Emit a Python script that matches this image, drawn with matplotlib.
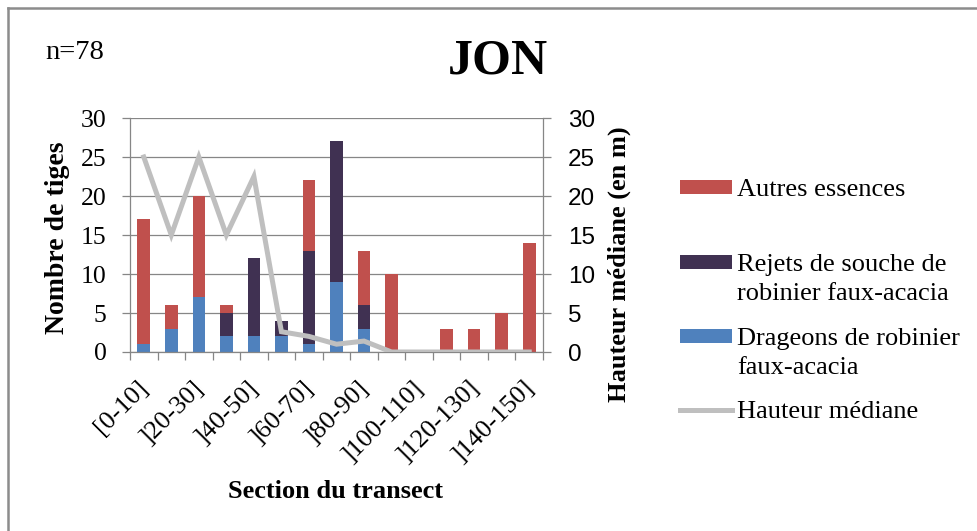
import numpy as np
import matplotlib
matplotlib.use("Agg")
import matplotlib.pyplot as plt
from matplotlib.patches import Rectangle
from matplotlib.lines import Line2D
import matplotlib.transforms as mtransforms

# sections du transect
sections = ['[0-10]', ']10-20]', ']20-30]', ']30-40]', ']40-50]', ']50-60]', ']60-70]',
            ']70-80]', ']80-90]', ']90-100]', ']100-110]', ']110-120]', ']120-130]',
            ']130-140]', ']140-150]']

# nombre de tiges par categorie
drageons = [1, 3, 7, 2, 2, 2, 1, 9, 3, 0, 0, 0, 0, 0, 0]
rejets = [0, 0, 0, 3, 10, 2, 12, 18, 3, 0, 0, 0, 0, 0, 0]
autres = [16, 3, 13, 1, 0, 0, 9, 0, 7, 10, 0, 3, 3, 5, 14]

# hauteur mediane (en m)
hauteur = [25, 15, 25, 15, 22.5, 2.6, 2.0, 1.0, 1.4, 0, 0, 0, 0, 0, 0]

yticks = [0, 5, 10, 15, 20, 25, 30]

c_autres = '#C0504D'
c_rejets = '#403152'
c_drag = '#4F81BD'
c_line = '#BFBFBF'
c_grid = '#868686'

serif = 'Liberation Serif'
sans = 'Liberation Sans'

W, H = 977, 531
DPI = 100
fig = plt.figure(figsize=(W / DPI, H / DPI), dpi=DPI)


def fx(px):
    return px / W


def fy(py):
    return 1 - py / H


# zone du graphique
left, right, top, bottom = 130, 543, 118, 352
ax = fig.add_axes([fx(left), fy(bottom), fx(right - left), (bottom - top) / H])
ax2 = ax.twinx()

x = np.arange(len(sections))
d = np.array(drageons)
r = np.array(rejets)
a = np.array(autres)
bw = 0.46
ax.bar(x, d, bw, color=c_drag, zorder=2)
ax.bar(x, r, bw, bottom=d, color=c_rejets, zorder=2)
ax.bar(x, a, bw, bottom=d + r, color=c_autres, zorder=2)

ax.set_xlim(-0.5, len(sections) - 0.5)
ax.set_ylim(0, 30)
ax.set_yticks(yticks)
ax.yaxis.grid(True, color=c_grid, linewidth=0.9)
ax.set_axisbelow(True)
ax.tick_params(axis='y', direction='out', length=5.8, width=0.9, color=c_grid,
               pad=11, labelsize=18.5)
for lab in ax.get_yticklabels():
    lab.set_fontfamily(serif)

# graduations x aux limites des categories, une etiquette sur deux
ax.set_xticks(x[::2])
ax.set_xticklabels(sections[::2], rotation=45, ha='right', va='top',
                   fontfamily=serif, fontsize=19)
ax.set_xticks(np.arange(-0.5, len(sections)), minor=True)
ax.tick_params(axis='x', which='major', length=0, pad=18)
ax.tick_params(axis='x', which='minor', direction='out', length=5.8, width=0.9,
               color=c_grid)
offset = mtransforms.ScaledTranslation(9 / DPI, 0, fig.dpi_scale_trans)
for lab in ax.get_xticklabels():
    lab.set_transform(lab.get_transform() + offset)

for s in ['top', 'right']:
    ax.spines[s].set_visible(False)
for s in ['left', 'bottom']:
    ax.spines[s].set_color(c_grid)
    ax.spines[s].set_linewidth(0.9)

# hauteur mediane sur l'axe secondaire
ax2.plot(x, hauteur, color=c_line, linewidth=3.6, solid_joinstyle='miter', zorder=3)
ax2.set_ylim(0, 30)
ax2.set_yticks(yticks)
ax2.tick_params(axis='y', direction='out', length=5.8, width=0.9, color=c_grid,
                pad=12, labelsize=17.5)
for lab in ax2.get_yticklabels():
    lab.set_fontfamily(sans)
for s in ['top', 'left', 'bottom']:
    ax2.spines[s].set_visible(False)
ax2.spines['right'].set_color(c_grid)
ax2.spines['right'].set_linewidth(0.9)

# titres des axes
fig.text(fx(57), fy(238), 'Nombre de tiges', rotation=90, ha='center', va='center',
         fontfamily=serif, fontweight='bold', fontsize=20)
fig.text(fx(619), fy(264), 'Hauteur médiane (en m)', rotation=90, ha='center',
         va='center', fontfamily=serif, fontweight='bold', fontsize=19)
fig.text(fx(336), fy(498), 'Section du transect', ha='center', va='baseline',
         fontfamily=serif, fontweight='bold', fontsize=19)

fig.text(fx(45), fy(59), 'n=78', ha='left', va='baseline', fontfamily=serif,
         fontsize=20.5)
fig.text(fx(498), fy(74), 'JON', ha='center', va='baseline', fontfamily=serif,
         fontweight='bold', fontsize=36)

# legende
legend_items = [
    ('patch', c_autres, 'Autres essences', 187),
    ('patch', c_rejets, 'Rejets de souche de\nrobinier faux-acacia', 262),
    ('patch', c_drag, 'Drageons de robinier\nfaux-acacia', 336),
    ('line', c_line, 'Hauteur médiane', 410),
]
for kind, col, label, yc in legend_items:
    if kind == 'patch':
        fig.add_artist(Rectangle((fx(680), fy(yc + 7)), fx(52), 14 / H,
                                 facecolor=col, edgecolor='none'))
    else:
        fig.add_artist(Line2D([fx(680), fx(732)], [fy(yc), fy(yc)], color=col,
                              linewidth=3.6))
    for k, line in enumerate(label.split('\n')):
        fig.text(fx(737), fy(yc + 30 * k), line, ha='left', va='center_baseline',
                 fontfamily=serif, fontsize=19)

# bordure du cadre (haut et gauche)
fig.add_artist(Line2D([fx(8), 1], [fy(8), fy(8)], color='#8C8C8C', linewidth=1.8))
fig.add_artist(Line2D([fx(8), fx(8)], [fy(8), 0], color='#8C8C8C', linewidth=1.8))

fig.savefig('out.png', dpi=DPI)
